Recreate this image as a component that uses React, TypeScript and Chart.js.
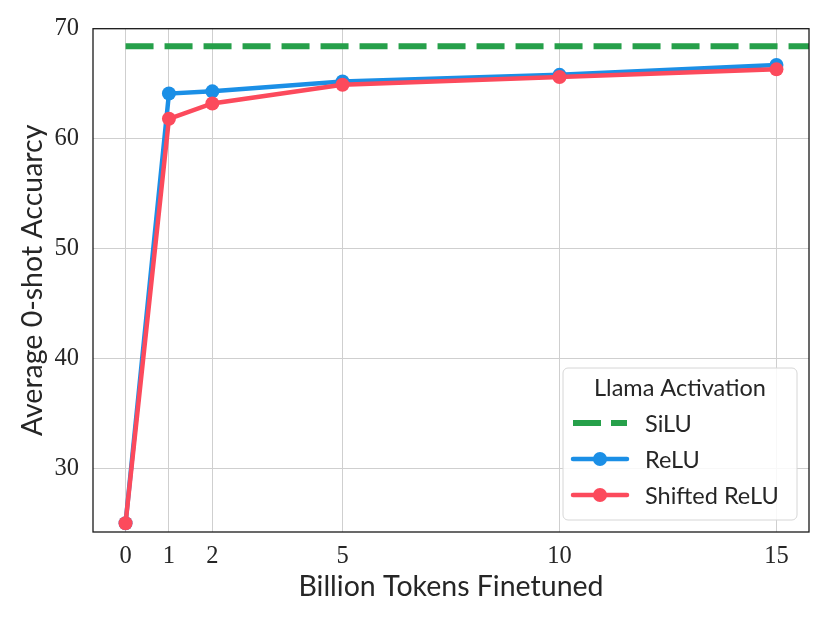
import { useEffect, useRef } from "react";
import { Chart, registerables } from "chart.js";
Chart.register(...registerables);

const tokens = [0, 1, 2, 5, 10, 15];
const reluAcc = [25.0, 64.1, 64.3, 65.2, 65.8, 66.7];
const shiftedAcc = [25.0, 61.8, 63.2, 64.9, 65.6, 66.3];
const siluRangeX = [0, 16];
const siluAcc = [68.4, 68.4];
const xTicks = [0, 1, 2, 5, 10, 15];
const yTicks = [30, 40, 50, 60, 70];
const legendTitle = "Llama Activation";
const seriesNames = ["SiLU", "ReLU", "Shifted ReLU"];

const GREEN = "#26a04a";
const BLUE = "#1b8fe6";
const RED = "#fc4a5c";
const TEXT = "#262626";
const SANS = "Lato, 'DejaVu Sans', sans-serif";
const SERIF = "'Liberation Serif', 'DejaVu Serif', serif";

const framePlugin = {
  id: "frame",
  afterDatasetsDraw(chart: any) {
    const { ctx, chartArea: a } = chart;
    ctx.save();
    ctx.strokeStyle = "#1a1a1a";
    ctx.lineWidth = 1.3;
    ctx.strokeRect(a.left, a.top, a.right - a.left, a.bottom - a.top);
    ctx.restore();
  },
};

const legendPlugin = {
  id: "innerLegend",
  afterDraw(chart: any) {
    const { ctx, chartArea: a } = chart;
    const w = 234;
    const h = 152;
    const x0 = a.right - 12 - w;
    const y0 = a.bottom - 12 - h;
    ctx.save();
    ctx.beginPath();
    const r = 5;
    ctx.moveTo(x0 + r, y0);
    ctx.arcTo(x0 + w, y0, x0 + w, y0 + h, r);
    ctx.arcTo(x0 + w, y0 + h, x0, y0 + h, r);
    ctx.arcTo(x0, y0 + h, x0, y0, r);
    ctx.arcTo(x0, y0, x0 + w, y0, r);
    ctx.closePath();
    ctx.fillStyle = "rgba(255,255,255,0.85)";
    ctx.fill();
    ctx.strokeStyle = "#d6d6d6";
    ctx.lineWidth = 1;
    ctx.stroke();

    ctx.fillStyle = TEXT;
    ctx.font = `23.5px ${SANS}`;
    ctx.textBaseline = "middle";
    ctx.textAlign = "center";
    ctx.fillText(legendTitle, x0 + w / 2, y0 + 20);

    const colors = [GREEN, BLUE, RED];
    ctx.textAlign = "left";
    seriesNames.forEach((name, i) => {
      const y = y0 + 55 + i * 36;
      const lx0 = x0 + 10;
      const lx1 = x0 + 64;
      ctx.strokeStyle = colors[i];
      ctx.lineCap = i === 0 ? "butt" : "round";
      if (i === 0) {
        ctx.lineWidth = 6;
        ctx.setLineDash([28, 10]);
      } else {
        ctx.lineWidth = 4.5;
        ctx.setLineDash([]);
      }
      ctx.beginPath();
      ctx.moveTo(lx0, y);
      ctx.lineTo(lx1, y);
      ctx.stroke();
      ctx.setLineDash([]);
      if (i > 0) {
        ctx.fillStyle = colors[i];
        ctx.beginPath();
        ctx.arc((lx0 + lx1) / 2, y, 7, 0, Math.PI * 2);
        ctx.fill();
      }
      ctx.fillStyle = TEXT;
      ctx.font = `23.5px ${SANS}`;
      ctx.fillText(name, x0 + 82, y + 1);
    });
    ctx.restore();
  },
};

export default function App() {
  const ref = useRef<HTMLCanvasElement | null>(null);
  useEffect(() => {
    document.body.style.margin = "0";
    if (!ref.current) return;
    const chart = new Chart(ref.current, {
      type: "line",
      data: {
        datasets: [
          {
            label: seriesNames[0],
            data: siluRangeX.map((x, i) => ({ x, y: siluAcc[i] })),
            borderColor: GREEN,
            borderWidth: 6,
            borderDash: [28, 11],
            pointRadius: 0,
            clip: 0,
            order: 2,
          },
          {
            label: seriesNames[1],
            data: tokens.map((x, i) => ({ x, y: reluAcc[i] })),
            borderColor: BLUE,
            backgroundColor: BLUE,
            borderWidth: 4.5,
            pointRadius: 7,
            pointBorderWidth: 0,
            order: 1,
          },
          {
            label: seriesNames[2],
            data: tokens.map((x, i) => ({ x, y: shiftedAcc[i] })),
            borderColor: RED,
            backgroundColor: RED,
            borderWidth: 4.5,
            pointRadius: 7,
            pointBorderWidth: 0,
            order: 0,
          },
        ],
      },
      options: {
        animation: false,
        responsive: false,
        layout: { padding: { top: 28, right: 21, left: 0, bottom: 0 } },
        plugins: { legend: { display: false }, tooltip: { enabled: false } },
        scales: {
          x: {
            type: "linear",
            min: -0.75,
            max: 15.75,
            afterBuildTicks: (s: any) => {
              s.ticks = xTicks.map((v) => ({ value: v }));
            },
            afterFit: (s: any) => {
              s.height = 91;
            },
            grid: { color: "#cfcfcf", lineWidth: 1, drawTicks: false },
            border: { display: false },
            ticks: {
              padding: 10,
              color: TEXT,
              font: { family: SERIF, size: 24.5 },
              maxRotation: 0,
              autoSkip: false,
            },
            title: {
              display: true,
              text: "Billion Tokens Finetuned",
              color: TEXT,
              font: { family: SANS, size: 28.5 },
              padding: { top: 0, bottom: 19 },
            },
          },
          y: {
            type: "linear",
            min: 24.2,
            max: 70,
            afterBuildTicks: (s: any) => {
              s.ticks = yTicks.map((v) => ({ value: v }));
            },
            afterFit: (s: any) => {
              s.width = 93;
            },
            grid: { color: "#cfcfcf", lineWidth: 1, drawTicks: false },
            border: { display: false },
            ticks: {
              padding: 14,
              color: TEXT,
              font: { family: SERIF, size: 24.5 },
            },
            title: {
              display: true,
              text: "Average 0-shot Accuarcy",
              color: TEXT,
              font: { family: SANS, size: 28.5 },
              padding: { top: 16, bottom: 0 },
            },
          },
        },
      },
      plugins: [framePlugin, legendPlugin],
    } as any);
    return () => chart.destroy();
  }, []);
  return <canvas ref={ref} width={830} height={623} style={{ display: "block" }} />;
}
